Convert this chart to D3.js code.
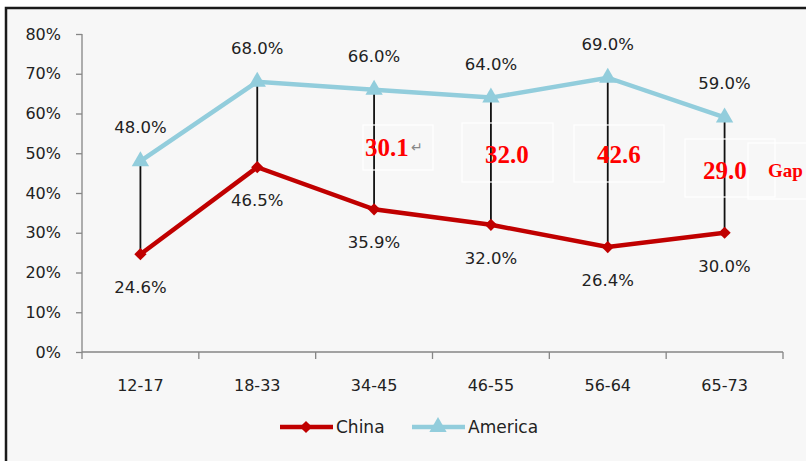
<!DOCTYPE html>
<html><head><meta charset="utf-8">
<script src="https://cdn.jsdelivr.net/npm/d3@7"></script>
<style>html,body{margin:0;padding:0;background:#fff;}svg{display:block;}</style>
</head><body>
<svg id="chart" width="806" height="461"></svg>
<script>
const categories = ["12-17","18-33","34-45","46-55","56-64","65-73"];
const china = [24.6, 46.5, 35.9, 32.0, 26.4, 30.0];
const america = [48.0, 68.0, 66.0, 64.0, 69.0, 59.0];
const yTicks = [0,10,20,30,40,50,60,70,80];
const gapNotes = [
  {cat:"34-45", text:"30.1", mark:"↵"},
  {cat:"46-55", text:"32.0"},
  {cat:"56-64", text:"42.6"},
  {cat:"65-73", text:"29.0"}
];
const legendItems = ["China","America"];

const svg = d3.select("#chart");
const font = "'DejaVu Sans', Verdana, sans-serif";
// frame
svg.append("rect").attr("x",6).attr("y",8).attr("width",806).attr("height",460)
  .attr("fill","#f7f7f7").attr("stroke","#1a1a1a").attr("stroke-width",2.5);

const x = d3.scaleBand().domain(categories).range([82,783]);
const y = d3.scaleLinear().domain([0,80]).range([352,34]);
const cx = c => x(c) + x.bandwidth()/2;

// y axis
const yAxis = svg.append("g").attr("transform","translate(82,0)")
  .call(d3.axisLeft(y).tickValues(yTicks).tickFormat(d=>d+"%").tickSize(6).tickPadding(15));
yAxis.selectAll("path,line").attr("stroke","#868686").attr("stroke-width",1.3);
yAxis.select(".domain").attr("d","M0,34V352");
yAxis.selectAll("text").attr("font-family",font).attr("font-size",16).attr("fill","#222");

// x axis
const xAxis = svg.append("g").attr("transform","translate(0,352)")
  .call(d3.axisBottom(x).tickSize(0).tickPadding(28));
xAxis.select(".domain").attr("stroke","#868686").attr("stroke-width",1.3).attr("d","M82,0H783");
xAxis.selectAll("text").attr("font-family",font).attr("font-size",16).attr("fill","#222");
const bounds = categories.map(c=>x(c)).concat([x.range()[1]]);
xAxis.selectAll(".bnd").data(bounds).enter().append("line")
  .attr("x1",d=>d).attr("x2",d=>d).attr("y1",0).attr("y2",7)
  .attr("stroke","#868686").attr("stroke-width",1.3);

// vertical connector lines
svg.append("g").selectAll("line").data(categories).enter().append("line")
  .attr("x1",c=>cx(c)).attr("x2",c=>cx(c))
  .attr("y1",(c,i)=>y(america[i])).attr("y2",(c,i)=>y(china[i]))
  .attr("stroke","#111").attr("stroke-width",1.8);

const line = d3.line().x((d,i)=>cx(categories[i])).y(d=>y(d));
const cChina = "#c00000", cAm = "#92cddc";

svg.append("path").datum(america).attr("d",line).attr("fill","none")
  .attr("stroke",cAm).attr("stroke-width",4.5);
svg.append("path").datum(china).attr("d",line).attr("fill","none")
  .attr("stroke",cChina).attr("stroke-width",4.5);

const tri = d3.symbol().type(d3.symbolTriangle).size(130);
const dia = d3.symbol().type(d3.symbolSquare).size(75);
svg.append("g").selectAll("path").data(america).enter().append("path")
  .attr("d",tri).attr("fill",cAm)
  .attr("transform",(d,i)=>`translate(${cx(categories[i])},${y(d)})`);
svg.append("g").selectAll("path").data(china).enter().append("path")
  .attr("d",dia).attr("fill",cChina)
  .attr("transform",(d,i)=>`translate(${cx(categories[i])},${y(d)}) rotate(45)`);

// data labels
svg.append("g").selectAll("text").data(america).enter().append("text")
  .attr("x",(d,i)=>cx(categories[i])).attr("y",d=>y(d)-28)
  .attr("text-anchor","middle").attr("font-family",font).attr("font-size",16.5).attr("fill","#222")
  .text(d=>d.toFixed(1)+"%");
svg.append("g").selectAll("text").data(china).enter().append("text")
  .attr("x",(d,i)=>cx(categories[i])).attr("y",d=>y(d)+39)
  .attr("text-anchor","middle").attr("font-family",font).attr("font-size",16.5).attr("fill","#222")
  .text(d=>d.toFixed(1)+"%");

// gap text boxes
const serif = "'Liberation Serif','Times New Roman',serif";
const boxDefs = [
  {x0:363, y0:125, w:70, h:45, tx:365, ty:147},
  {x0:462, y0:123, w:91, h:59, tx:485, ty:154},
  {x0:574, y0:125, w:90, h:57, tx:597, ty:154},
  {x0:685, y0:139, w:90, h:58, tx:703, ty:170}
];
const gg = svg.append("g");
gapNotes.forEach((g,i)=>{
  const b = boxDefs[i];
  gg.append("rect").attr("x",b.x0).attr("y",b.y0).attr("width",b.w).attr("height",b.h)
    .attr("fill","none").attr("stroke","#ffffff").attr("stroke-width",1.2);
  const t = gg.append("text").attr("x",b.tx).attr("y",b.ty).attr("dominant-baseline","central")
    .attr("font-family",serif).attr("font-weight","bold").attr("font-size",25).attr("fill","#ff0000")
    .text(g.text);
  if(g.mark){
    t.append("tspan").attr("font-size",14).attr("font-weight","normal").attr("fill","#888").attr("dx",2).text(g.mark);
  }
});
gg.append("rect").attr("x",748).attr("y",143).attr("width",70).attr("height",56)
  .attr("fill","none").attr("stroke","#ffffff").attr("stroke-width",1.2);
gg.append("text").attr("x",768).attr("y",170).attr("dominant-baseline","central")
  .attr("font-family",serif).attr("font-weight","bold").attr("font-size",19).attr("fill","#ff0000").text("Gap");

// legend
const leg = svg.append("g");
const legX = [280, 412];
legendItems.forEach((name,i)=>{
  const col = i===0?cChina:cAm;
  leg.append("line").attr("x1",legX[i]).attr("x2",legX[i]+53).attr("y1",427).attr("y2",427)
    .attr("stroke",col).attr("stroke-width",4.5);
  leg.append("path").attr("d", i===0?dia:tri).attr("fill",col)
    .attr("transform",`translate(${legX[i]+26},427)` + (i===0?" rotate(45)":""));
  leg.append("text").attr("x",legX[i]+56).attr("y",427).attr("dominant-baseline","central")
    .attr("font-family",font).attr("font-size",17).attr("fill","#222").text(name);
});
</script>
</body></html>
